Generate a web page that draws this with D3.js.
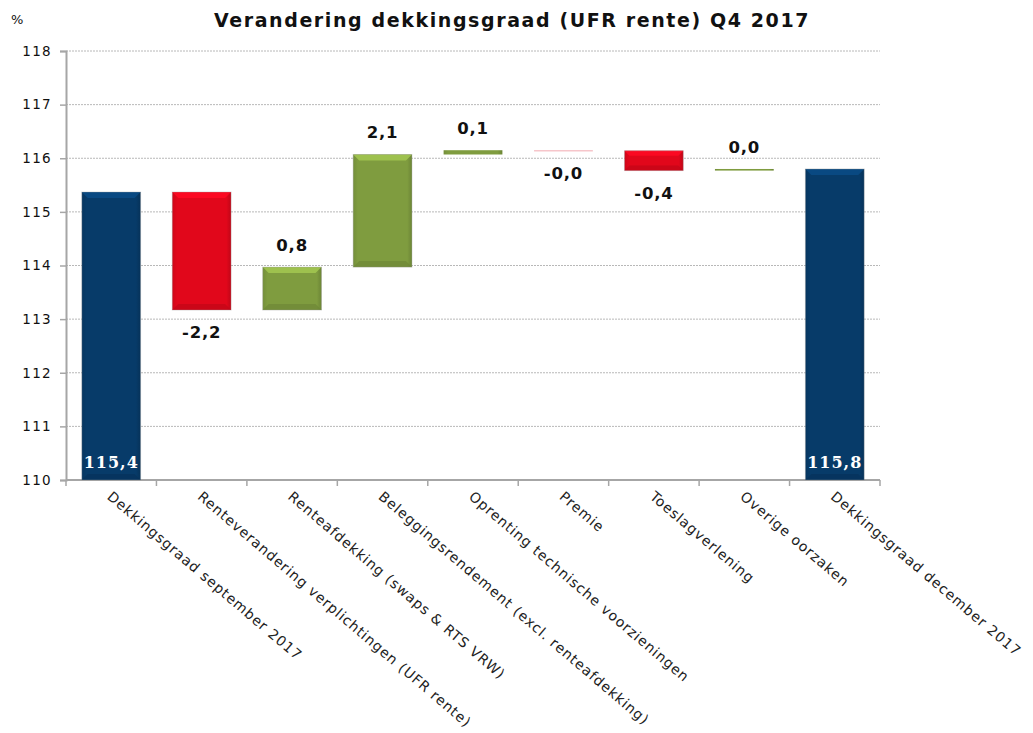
<!DOCTYPE html>
<html><head><meta charset="utf-8">
<script src="https://cdn.jsdelivr.net/npm/d3@7"></script>
<style>body{margin:0;background:#fff}svg{display:block}</style>
</head><body>
<svg id="c" width="1033" height="733"></svg>
<script>
const categories = ["Dekkingsgraad september 2017","Renteverandering verplichtingen (UFR rente)","Renteafdekking (swaps & RTS VRW)","Beleggingsrendement (excl. renteafdekking)","Oprenting technische voorzieningen","Premie","Toeslagverlening","Overige oorzaken","Dekkingsgraad december 2017"];
const kinds = ["total","delta","delta","delta","delta","delta","delta","delta","total"];
const values = [115.37,-2.2,0.8,2.1,0.08,-0.01,-0.37,0.03,115.8];
const labels = ["115,4","-2,2","0,8","2,1","0,1","-0,0","-0,4","0,0","115,8"];
const yTicks = [110,111,112,113,114,115,116,117,118];

const svg = d3.select("#c");
const L=66,R=880,T=51,B=480;
const x = d3.scaleBand().domain(categories).range([L,R]).paddingInner(0.35).paddingOuter(0.175);
const y = d3.scaleLinear().domain([110,118]).range([B,T]);
const colTotal="#073b69", colNeg="#e1071b", colPos="#7f9c3f";

// grid
svg.append("g").selectAll("line").data(yTicks.filter(d=>d>110)).join("line")
 .attr("x1",L).attr("x2",R).attr("y1",d=>y(d)).attr("y2",d=>y(d))
 .attr("stroke","#b8b8b8").attr("stroke-width",1).attr("stroke-dasharray","2,1");

// y axis
const ya = svg.append("g").attr("transform",`translate(${L},0)`).call(d3.axisLeft(y).tickValues(yTicks).tickSize(6).tickPadding(8));
ya.select(".domain").attr("stroke","#a6a6a6").attr("stroke-width",2);
ya.selectAll(".tick line").attr("stroke","#a6a6a6").attr("stroke-width",1.5);
ya.selectAll("text").attr("font-family","DejaVu Sans").attr("font-size",13.5).attr("letter-spacing",1.3).attr("fill","#111");

// x axis line + ticks
const edges = categories.map(c=>x(c)-x.step()*x.paddingInner()/2).concat([R]);
svg.append("line").attr("x1",L).attr("x2",R).attr("y1",B).attr("y2",B).attr("stroke","#a6a6a6").attr("stroke-width",2);
svg.append("g").selectAll("line").data(edges).join("line")
 .attr("x1",d=>d).attr("x2",d=>d).attr("y1",B).attr("y2",B+6).attr("stroke","#a6a6a6").attr("stroke-width",1.5);

// bars
let run=0; const bars=[];
values.forEach((v,i)=>{
  if(kinds[i]==="total"){bars.push({i,y0:110,y1:v,v,c:colTotal});run=v;}
  else{const s=run;run=run+v;bars.push({i,y0:Math.min(s,run),y1:Math.max(s,run),v,c:v<0?colNeg:colPos});}
});
const defs=svg.append("defs");
bars.forEach(b=>{
  const g=defs.append("linearGradient").attr("id","g"+b.i).attr("x1","0").attr("x2","1");
  const c=d3.color(b.c);
  g.append("stop").attr("offset","0").attr("stop-color",c.darker(0.25));
  g.append("stop").attr("offset","0.08").attr("stop-color",c);
  g.append("stop").attr("offset","0.92").attr("stop-color",c);
  g.append("stop").attr("offset","1").attr("stop-color",c.darker(0.45));
});
const bg=svg.append("g");
bars.forEach(b=>{
  const x0=x(categories[b.i]), w=x.bandwidth();
  const yt=y(b.y1), h=Math.max(1.2,y(b.y0)-y(b.y1));
  const c=d3.color(b.c);
  let fill=`url(#g${b.i})`;
  if(h<1.5 && b.v<0){fill="#f4b8be";}
  bg.append("rect").attr("x",x0).attr("y",yt).attr("width",w).attr("height",h).attr("fill",fill);
  if(h>8){
    const e=Math.min(6,h/4);
    bg.append("path").attr("d",`M${x0},${yt}L${x0+w},${yt}L${x0+w-e},${yt+e}L${x0+e},${yt+e}Z`).attr("fill",c.brighter(0.7)).attr("opacity",0.85);
    bg.append("path").attr("d",`M${x0},${yt+h}L${x0+w},${yt+h}L${x0+w-e},${yt+h-e}L${x0+e},${yt+h-e}Z`).attr("fill",c.darker(0.5)).attr("opacity",0.6);
    bg.append("rect").attr("x",x0).attr("y",yt).attr("width",w).attr("height",h).attr("fill","none").attr("stroke","#999").attr("stroke-opacity",0.35).attr("stroke-width",1);
  }
});

// value labels
bars.forEach(b=>{
  const cx=x(categories[b.i])+x.bandwidth()/2;
  if(kinds[b.i]==="total"){
    svg.append("text").attr("x",cx).attr("y",B-12).attr("text-anchor","middle")
     .attr("font-family","DejaVu Serif").attr("font-weight","bold").attr("font-size",16).attr("letter-spacing",1)
     .attr("fill","#fff").text(labels[b.i]);
  } else {
    const yy = b.v<0 ? y(b.y0)+28 : y(b.y1)-16;
    svg.append("text").attr("x",cx).attr("y",yy).attr("text-anchor","middle")
     .attr("font-family","DejaVu Sans").attr("font-weight","bold").attr("font-size",16.5).attr("letter-spacing",0.8).attr("fill","#111").text(labels[b.i]);
  }
});

// x labels
svg.append("g").selectAll("text").data(categories).join("text")
 .attr("transform",d=>`translate(${x(d)+x.bandwidth()/2-5},${B+18}) rotate(40.5)`)
 .attr("font-family","DejaVu Sans").attr("font-size",14).attr("letter-spacing",0.9).attr("fill","#222").text(d=>d);

// title
svg.append("text").attr("x",512).attr("y",27).attr("text-anchor","middle")
 .attr("font-family","DejaVu Sans").attr("font-weight","bold").attr("font-size",19).attr("letter-spacing",1.6).attr("fill","#111")
 .text("Verandering dekkingsgraad (UFR rente) Q4 2017");
svg.append("text").attr("x",11).attr("y",24).attr("font-family","DejaVu Sans").attr("font-size",13).attr("fill","#111").text("%");
</script>
</body></html>
